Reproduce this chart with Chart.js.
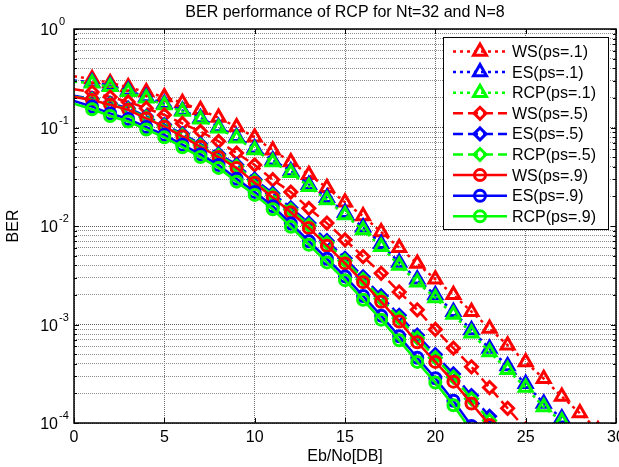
<!DOCTYPE html>
<html lang="en">
<head>
  <meta charset="UTF-8">
  <title>BER performance of RCP for Nt=32 and N=8</title>
  <script src="https://cdn.jsdelivr.net/npm/chart.js"></script>
  <style>
    html, body { margin: 0; padding: 0; background: #fff; }
  </style>
</head>
<body>
  <canvas id="berChart" width="619" height="467"></canvas>

  <script>
    // Eb/No in dB, one point per dB
    const snrDb = [0, 1, 2, 3, 4, 5, 6, 7, 8, 9, 10, 11, 12, 13, 14, 15, 16, 17, 18, 19, 20, 21, 22, 23, 24, 25, 26, 27, 28, 29];

    const wsP1  = [0.331, 0.31, 0.283, 0.257, 0.229, 0.204, 0.178, 0.151, 0.126, 0.101, 0.0794, 0.0589, 0.0447, 0.0331, 0.0245, 0.0174, 0.0126, 0.0087, 0.00603, 0.00417, 0.00288, 0.0020, 0.00135, 0.000912, 0.000617, 0.000417, 0.000282, 0.000186, 0.000126, 0.000085];
    const esP1  = [0.30, 0.288, 0.266, 0.237, 0.204, 0.174, 0.149, 0.125, 0.101, 0.0805, 0.0615, 0.0466, 0.0362, 0.0263, 0.0193, 0.0136, 0.0097, 0.0066, 0.00425, 0.00288, 0.00199, 0.00135, 0.00088, 0.00057, 0.000378, 0.00025, 0.000158, 0.000112, 0.000076];
    const rcpP1 = [0.292, 0.281, 0.259, 0.231, 0.198, 0.169, 0.145, 0.121, 0.098, 0.0776, 0.0592, 0.0447, 0.0347, 0.0251, 0.0184, 0.0129, 0.00912, 0.00617, 0.00398, 0.00269, 0.00186, 0.00126, 0.000813, 0.000525, 0.000347, 0.000229, 0.000145, 0.000104, 0.0000708];
    const wsP5  = [0.245, 0.229, 0.204, 0.182, 0.157, 0.134, 0.110, 0.0912, 0.0724, 0.055, 0.0417, 0.0295, 0.0221, 0.0151, 0.0107, 0.00724, 0.0049, 0.00331, 0.00214, 0.00141, 0.00089, 0.000575, 0.000372, 0.000229, 0.000141, 0.000087];
    const esP5  = [0.21, 0.196, 0.176, 0.157, 0.13, 0.107, 0.0862, 0.068, 0.0537, 0.0419, 0.0299, 0.0214, 0.0153, 0.0107, 0.0071, 0.0047, 0.00305, 0.00195, 0.00124, 0.00078, 0.000495, 0.000315, 0.00019, 0.000117, 0.0000708];
    const rcpP5 = [0.205, 0.192, 0.172, 0.153, 0.127, 0.104, 0.0838, 0.066, 0.052, 0.0405, 0.0288, 0.0205, 0.0146, 0.0102, 0.00675, 0.00445, 0.00288, 0.00183, 0.00116, 0.00073, 0.00046, 0.000292, 0.000176, 0.000106, 0.000064];
    const wsP9  = [0.204, 0.19, 0.17, 0.151, 0.124, 0.102, 0.0813, 0.0638, 0.0501, 0.0389, 0.0275, 0.0195, 0.0138, 0.00955, 0.00631, 0.00417, 0.00269, 0.0017, 0.00107, 0.00066, 0.000417, 0.000263, 0.000158, 0.0000955];
    const esP9  = [0.186, 0.163, 0.139, 0.122, 0.101, 0.0842, 0.067, 0.0533, 0.0415, 0.0302, 0.0222, 0.0159, 0.0106, 0.0070, 0.00465, 0.00308, 0.00195, 0.00123, 0.00076, 0.00046, 0.000285, 0.000168, 0.0000935];
    const rcpP9 = [0.174, 0.153, 0.131, 0.115, 0.0955, 0.0794, 0.0631, 0.0501, 0.0389, 0.0282, 0.0207, 0.0148, 0.0098, 0.00646, 0.00427, 0.00282, 0.00178, 0.00112, 0.00069, 0.000417, 0.000257, 0.000151, 0.000083];

    const seriesNames = ["WS(ps=.1)", "ES(ps=.1)", "RCP(ps=.1)", "WS(ps=.5)", "ES(ps=.5)", "RCP(ps=.5)", "WS(ps=.9)", "ES(ps=.9)", "RCP(ps=.9)"];
    const seriesValues = [wsP1, esP1, rcpP1, wsP5, esP5, rcpP5, wsP9, esP9, rcpP9];

    const xTicks = [0, 5, 10, 15, 20, 25, 30];
    const yDecades = [1e-4, 1e-3, 1e-2, 1e-1, 1];

    const FONT = "'Liberation Sans', Arial, sans-serif";
    const RED = "#ff0000", BLUE = "#0000ff", GREEN = "#00ff00";
    const DOT = [3, 4], DASH = [10, 5], SOLID = [];
    const lineStyles = [
      { color: RED,   dash: DOT,   marker: "triangle", r: 7.5 },
      { color: BLUE,  dash: DOT,   marker: "triangle", r: 7.5 },
      { color: GREEN, dash: DOT,   marker: "triangle", r: 7.5 },
      { color: RED,   dash: DASH,  marker: "rectRot",  r: 6 },
      { color: BLUE,  dash: DASH,  marker: "rectRot",  r: 6 },
      { color: GREEN, dash: DASH,  marker: "rectRot",  r: 6 },
      { color: RED,   dash: SOLID, marker: "circle",   r: 5.5 },
      { color: BLUE,  dash: SOLID, marker: "circle",   r: 5.5 },
      { color: GREEN, dash: SOLID, marker: "circle",   r: 5.5 }
    ];

    // every 1..9 x 10^k value for the log grid
    const yGridValues = [];
    for (let k = 0; k < yDecades.length - 1; k++) {
      for (let m = 1; m < 10; m++) yGridValues.push(m * yDecades[k]);
    }
    yGridValues.push(yDecades[yDecades.length - 1]);
    const isDecade = v => yDecades.some(d => Math.abs(v - d) / d < 1e-6);

    const datasets = seriesValues.map((vals, i) => {
      const st = lineStyles[i];
      return {
        label: seriesNames[i],
        data: vals.map((v, j) => ({ x: snrDb[j], y: v })),
        borderColor: st.color,
        borderWidth: 2.5,
        borderDash: st.dash,
        pointStyle: st.marker,
        pointRadius: ctx => (ctx.raw && ctx.raw.x === 0 ? 0 : st.r),
        pointBorderWidth: 3,
        pointBorderColor: st.color,
        pointBackgroundColor: "rgba(0,0,0,0)",
        tension: 0,
        order: seriesValues.length - i
      };
    });

    // title, box, inward ticks, 10^n labels and MATLAB-like legend
    const matlabLook = {
      id: "matlabLook",
      afterDraw(chart) {
        const ctx = chart.ctx;
        const area = chart.chartArea;
        const xs = chart.scales.x, ys = chart.scales.y;
        ctx.save();

        // title
        ctx.fillStyle = "#000";
        ctx.font = "16px " + FONT;
        ctx.textAlign = "center";
        ctx.textBaseline = "alphabetic";
        ctx.fillText("BER performance of RCP for Nt=32 and N=8", (area.left + area.right) / 2, 17);

        // inward ticks
        ctx.strokeStyle = "#000";
        ctx.lineWidth = 1;
        ctx.beginPath();
        xTicks.forEach(v => {
          const px = Math.round(xs.getPixelForValue(v)) + 0.5;
          ctx.moveTo(px, area.bottom); ctx.lineTo(px, area.bottom - 5);
          ctx.moveTo(px, area.top); ctx.lineTo(px, area.top + 5);
        });
        yGridValues.forEach(v => {
          const py = Math.round(ys.getPixelForValue(v)) + 0.5;
          const len = isDecade(v) ? 5 : 3;
          ctx.moveTo(area.left, py); ctx.lineTo(area.left + len, py);
          ctx.moveTo(area.right, py); ctx.lineTo(area.right - len, py);
        });
        ctx.stroke();

        // axes box
        ctx.lineWidth = 1.5;
        ctx.strokeRect(area.left, area.top, area.right - area.left, area.bottom - area.top);

        // y tick labels 10^n
        yDecades.forEach(v => {
          const py = ys.getPixelForValue(v);
          const ex = Math.round(Math.log10(v));
          ctx.font = "16px " + FONT;
          ctx.textAlign = "right";
          ctx.fillText("10", 58, py + 6);
          ctx.font = "11px " + FONT;
          ctx.textAlign = "left";
          ctx.fillText(String(ex), 59, py - 4);
        });

        // legend
        const bx = 443, by = 37, bw = 165, bh = 192, rowH = 20.6;
        ctx.fillStyle = "#fff";
        ctx.fillRect(bx, by, bw, bh);
        ctx.lineWidth = 1;
        ctx.strokeStyle = "#000";
        ctx.strokeRect(bx + 0.5, by + 0.5, bw, bh);
        seriesNames.forEach((name, i) => {
          const st = lineStyles[i];
          const y = by + 14.5 + i * rowH;
          ctx.strokeStyle = st.color;
          ctx.lineWidth = 2.5;
          ctx.setLineDash(st.dash);
          ctx.beginPath();
          ctx.moveTo(bx + 10, y);
          ctx.lineTo(bx + 64, y);
          ctx.stroke();
          ctx.setLineDash([]);
          ctx.fillStyle = "rgba(0,0,0,0)";
          ctx.lineWidth = 3;
          Chart.helpers.drawPoint(ctx, { pointStyle: st.marker, radius: st.r, borderWidth: 3, rotation: 0 }, bx + 37, y);
          ctx.fillStyle = "#000";
          ctx.font = "16px " + FONT;
          ctx.textAlign = "left";
          ctx.textBaseline = "middle";
          ctx.fillText(name, bx + 69, y + 1);
          ctx.textBaseline = "alphabetic";
        });

        ctx.restore();
      }
    };

    new Chart(document.getElementById("berChart"), {
      type: "line",
      data: { datasets },
      plugins: [matlabLook],
      options: {
        responsive: false,
        animation: false,
        layout: { autoPadding: false, padding: { left: 0, right: 3, top: 29, bottom: 0 } },
        plugins: {
          legend: { display: false },
          title: { display: false },
          tooltip: { enabled: false }
        },
        scales: {
          x: {
            type: "linear",
            min: 0,
            max: 30,
            afterBuildTicks: scale => { scale.ticks = xTicks.map(v => ({ value: v })); },
            afterFit: scale => { scale.height = 44; scale.paddingLeft = 0; scale.paddingRight = 0; },
            ticks: { color: "#000", font: { family: FONT, size: 16 }, padding: 5, maxRotation: 0 },
            grid: { color: "#707070", lineWidth: 1, drawTicks: false },
            border: { display: false, dash: [1, 1] },
            title: { display: true, text: "Eb/No[DB]", color: "#000", font: { family: FONT, size: 16 }, padding: { top: 0, bottom: 1 } }
          },
          y: {
            type: "logarithmic",
            min: 1e-4,
            max: 1,
            afterBuildTicks: scale => { scale.ticks = yGridValues.map(v => ({ value: v })); },
            afterFit: scale => { scale.width = 74; },
            ticks: { display: false, autoSkip: false },
            grid: {
              color: ctx => (ctx.tick && isDecade(ctx.tick.value) ? "#606060" : "#8c8c8c"),
              lineWidth: 1,
              drawTicks: false
            },
            border: { display: false, dash: [1, 1] },
            title: { display: true, text: "BER", color: "#000", font: { family: FONT, size: 16 }, padding: { top: 4, bottom: 0 } }
          }
        }
      }
    });
  </script>
</body>
</html>
